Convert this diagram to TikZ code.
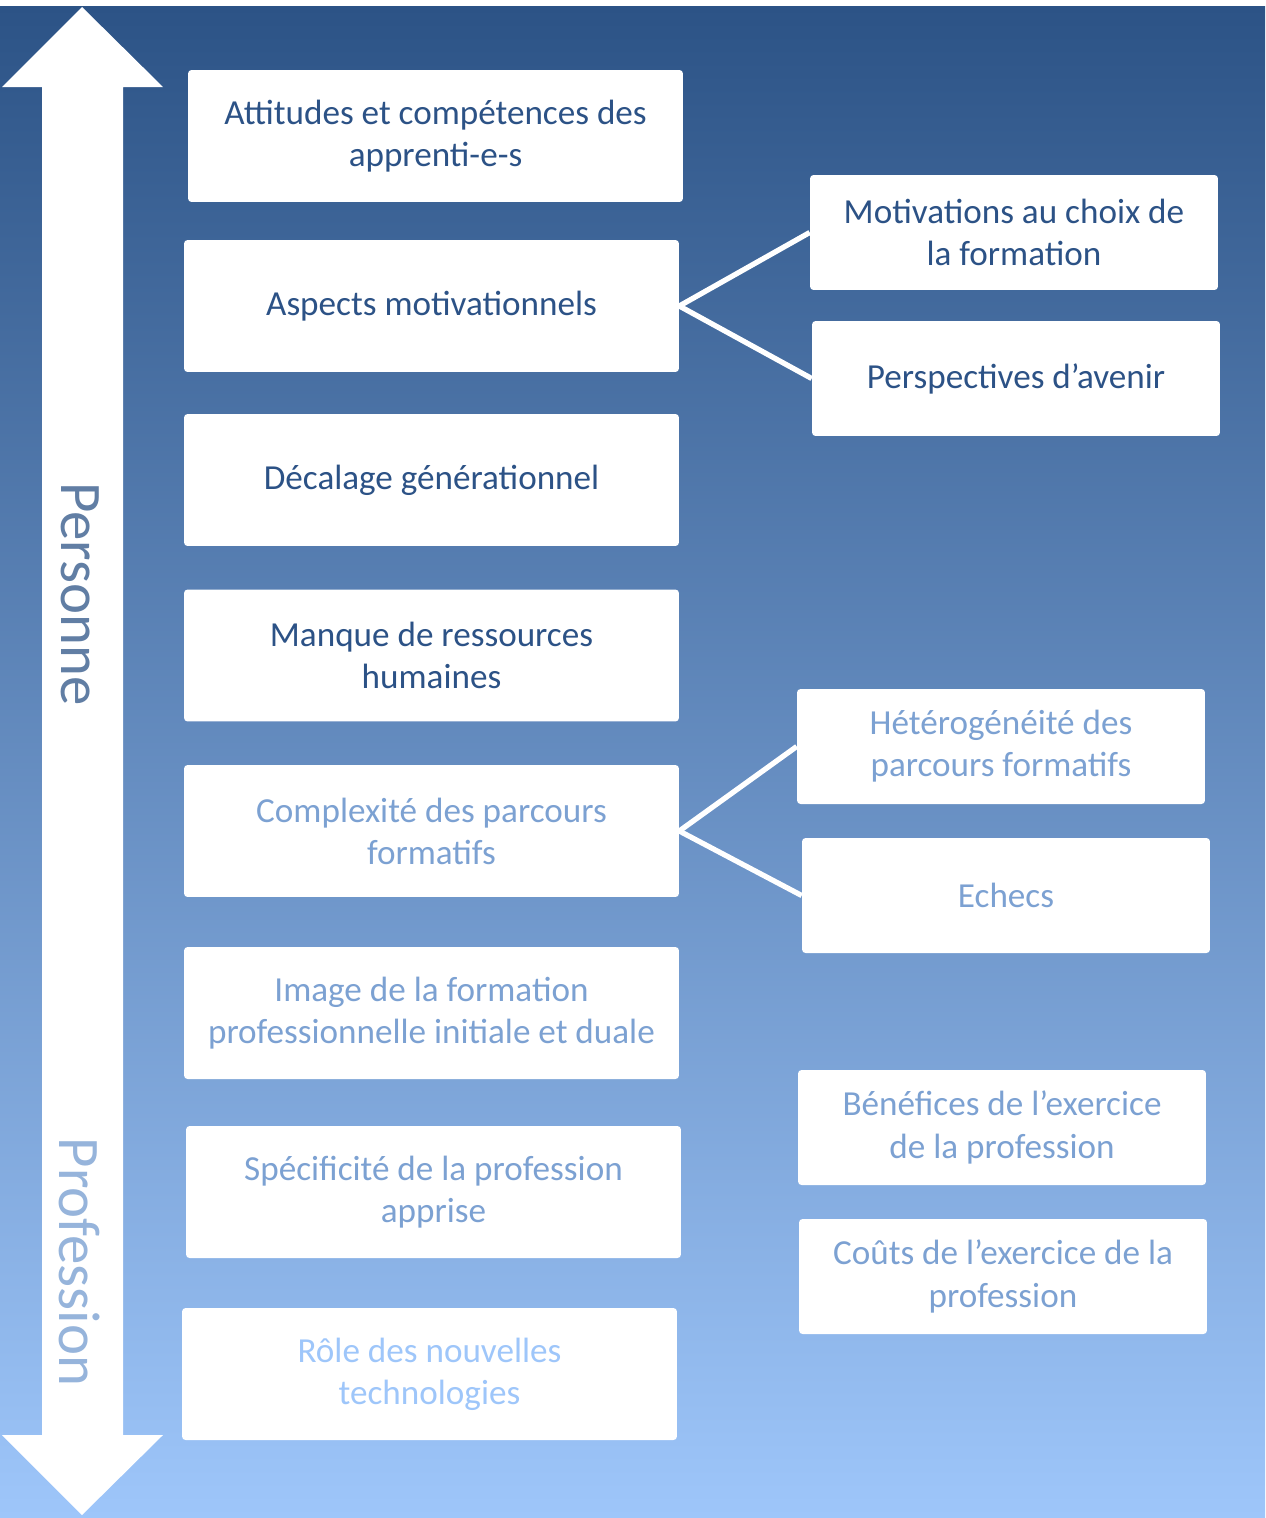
\documentclass[tikz,border=0pt]{standalone}
\usepackage{fontspec}
\setmainfont{Carlito}
\definecolor{bgtop}{RGB}{44,83,134}
\definecolor{bgbot}{RGB}{158,198,250}
\definecolor{txdark}{RGB}{44,82,134}
\definecolor{txmid}{RGB}{124,161,210}
\definecolor{txlight}{RGB}{158,198,250}
\begin{document}
\begin{tikzpicture}[x=0.02cm, y=-0.02cm,
    theme/.style={fill=white, rounded corners=2pt, inner sep=0pt, align=center,
      minimum width=9.9cm, minimum height=2.64cm,
      font=\fontsize{20}{24}\selectfont},
    subtheme/.style={theme, minimum width=8.16cm, minimum height=2.3cm},
    link/.style={white, line width=3pt},
    axislabel/.style={rotate=-90, font=\fontsize{33.5}{40}\selectfont}]
    
    \useasboundingbox (0,0) rectangle (1265,1518);
    \shade[top color=bgtop, bottom color=bgbot] (0,6) rectangle (1265,1518);
    
    % double arrow
    \fill[white] (82,7) -- (163,87) -- (123,87) -- (123,1435) -- (163,1435)
    -- (82,1515) -- (2,1435) -- (42,1435) -- (42,87) -- (2,87) -- cycle;
    \node[axislabel, text=bgtop!75!white] (personne) at (80,594) {Personne};
    \node[axislabel, text=txmid!80!white] (profession) at (80,1262) {Profession};
    
    % main themes
    \node[theme, text=txdark] (attitudes) at (435.5,136) {Attitudes et compétences des\\apprenti-e-s};
    \node[theme, text=txdark] (aspects) at (431.5,306) {Aspects motivationnels};
    \node[theme, text=txdark] (decalage) at (431.5,480) {Décalage générationnel};
    \node[theme, text=txdark] (manque) at (431.5,655.5) {Manque de ressources\\humaines};
    \node[theme, text=txmid] (complexite) at (431.5,831) {Complexité des parcours\\formatifs};
    \node[theme, text=txmid] (image) at (431.5,1013) {Image de la formation\\professionnelle initiale et duale};
    \node[theme, text=txmid] (specificite) at (433.5,1192) {Spécificité de la profession\\apprise};
    \node[theme, text=txlight] (role) at (429.5,1374) {Rôle des nouvelles\\technologies};
    
    % sub themes
    \node[subtheme, text=txdark] (motivations) at (1014,232.5) {Motivations au choix de\\la formation};
    \node[subtheme, text=txdark] (perspectives) at (1016,378.5) {Perspectives d’avenir};
    \node[subtheme, text=txmid] (heterogeneite) at (1001,746.5) {Hétérogénéité des\\parcours formatifs};
    \node[subtheme, text=txmid] (echecs) at (1006,895.5) {Echecs};
    \node[subtheme, text=txmid] (benefices) at (1002,1127.5) {Bénéfices de l’exercice\\de la profession};
    \node[subtheme, text=txmid] (couts) at (1003,1276.5) {Coûts de l’exercice de la\\profession};
    
    \foreach \a/\b in {aspects/motivations, aspects/perspectives,
      complexite/heterogeneite, complexite/echecs}
    \draw[link] (\a.east) -- (\b.west);
    
\end{tikzpicture}
\end{document}
